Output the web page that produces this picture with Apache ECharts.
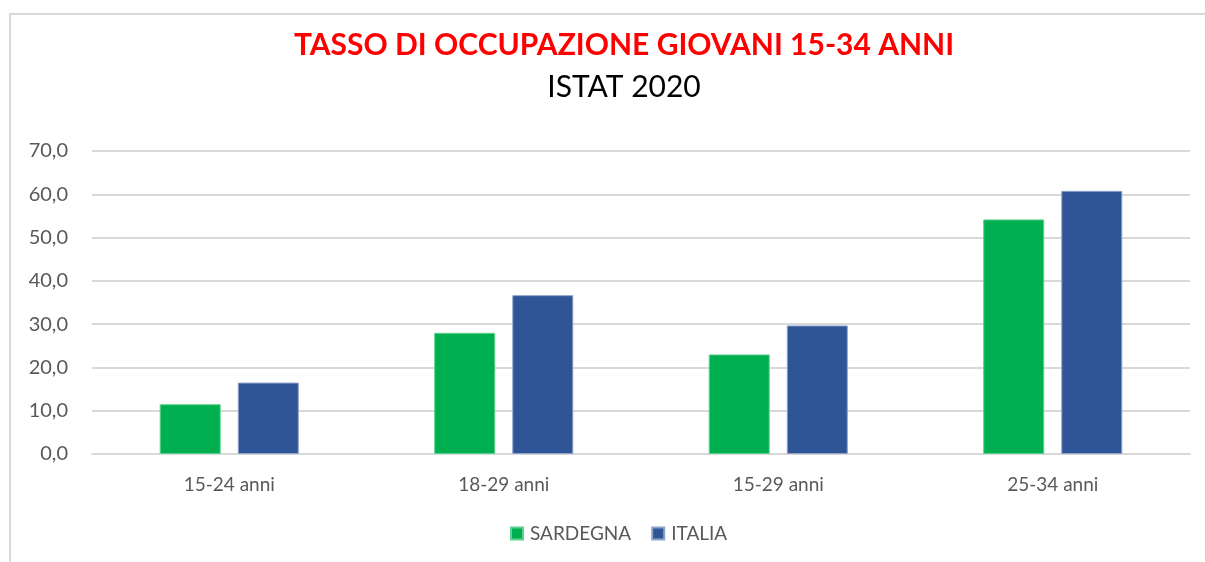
<!DOCTYPE html>
<html>
<head>
<meta charset="utf-8">
<script src="https://cdn.jsdelivr.net/npm/echarts@6/dist/echarts.min.js"></script>
<style>
  html, body { margin: 0; padding: 0; background: #fff; }
  #frame { position: absolute; left: 9px; top: 13px; width: 1300px; height: 600px; border-left: 2px solid #d9d9d9; border-top: 2px solid #d9d9d9; }
  #chart { position: absolute; left: 0; top: 0; width: 1205px; height: 562px; }
</style>
</head>
<body>
<div id="frame"></div>
<div id="chart"></div>
<script>
var categories = ['15-24 anni', '18-29 anni', '15-29 anni', '25-34 anni'];
var sardegna = [11.5, 28.0, 23.0, 54.2];
var italia = [16.5, 36.7, 29.7, 60.8];
var yTicks = [0, 10, 20, 30, 40, 50, 60, 70];

var myChart = echarts.init(document.getElementById('chart'));
var option = {
  animation: false,
  title: [
    {
      text: 'TASSO DI OCCUPAZIONE GIOVANI 15-34 ANNI',
      left: 619, top: 25, textAlign: 'center',
      textStyle: { color: '#ff0000', fontFamily: 'Lato', fontWeight: 'bold', fontSize: 30 }
    },
    {
      text: 'ISTAT 2020',
      left: 619, top: 67, textAlign: 'center',
      textStyle: { color: '#000', fontFamily: 'Lato', fontWeight: 'normal', fontSize: 30 }
    }
  ],
  legend: {
    bottom: 14, left: 505,
    itemWidth: 12, itemHeight: 12, itemGap: 20,
    icon: 'rect',
    textStyle: { color: '#595959', fontFamily: 'Lato', fontSize: 19, padding: [0, 0, 0, 2] },
    data: ['SARDEGNA', 'ITALIA']
  },
  grid: { left: 92, right: 15, top: 151, bottom: 108 },
  xAxis: {
    type: 'category',
    data: categories,
    axisLine: { lineStyle: { color: '#d9d9d9', width: 2 } },
    axisTick: { show: false },
    axisLabel: { color: '#595959', fontFamily: 'Lato', fontSize: 19, margin: 21 }
  },
  yAxis: {
    type: 'value',
    min: yTicks[0], max: yTicks[yTicks.length - 1], interval: 10,
    axisLine: { show: false },
    axisTick: { show: false },
    splitLine: { lineStyle: { color: '#d9d9d9', width: 2 } },
    axisLabel: {
      color: '#595959', fontFamily: 'Lato', fontSize: 20, margin: 24,
      formatter: function (v) { return v.toFixed(1).replace('.', ','); }
    }
  },
  series: [
    {
      name: 'SARDEGNA', type: 'bar', data: sardegna,
      barWidth: 61, barGap: '28%',
      itemStyle: { color: '#00b050', borderColor: '#5fd08f', borderWidth: 1 }
    },
    {
      name: 'ITALIA', type: 'bar', data: italia,
      barWidth: 61, barGap: '28%',
      itemStyle: { color: '#2f5597', borderColor: '#8ea3c8', borderWidth: 1 }
    }
  ]
};
myChart.setOption(option);
</script>
</body>
</html>
